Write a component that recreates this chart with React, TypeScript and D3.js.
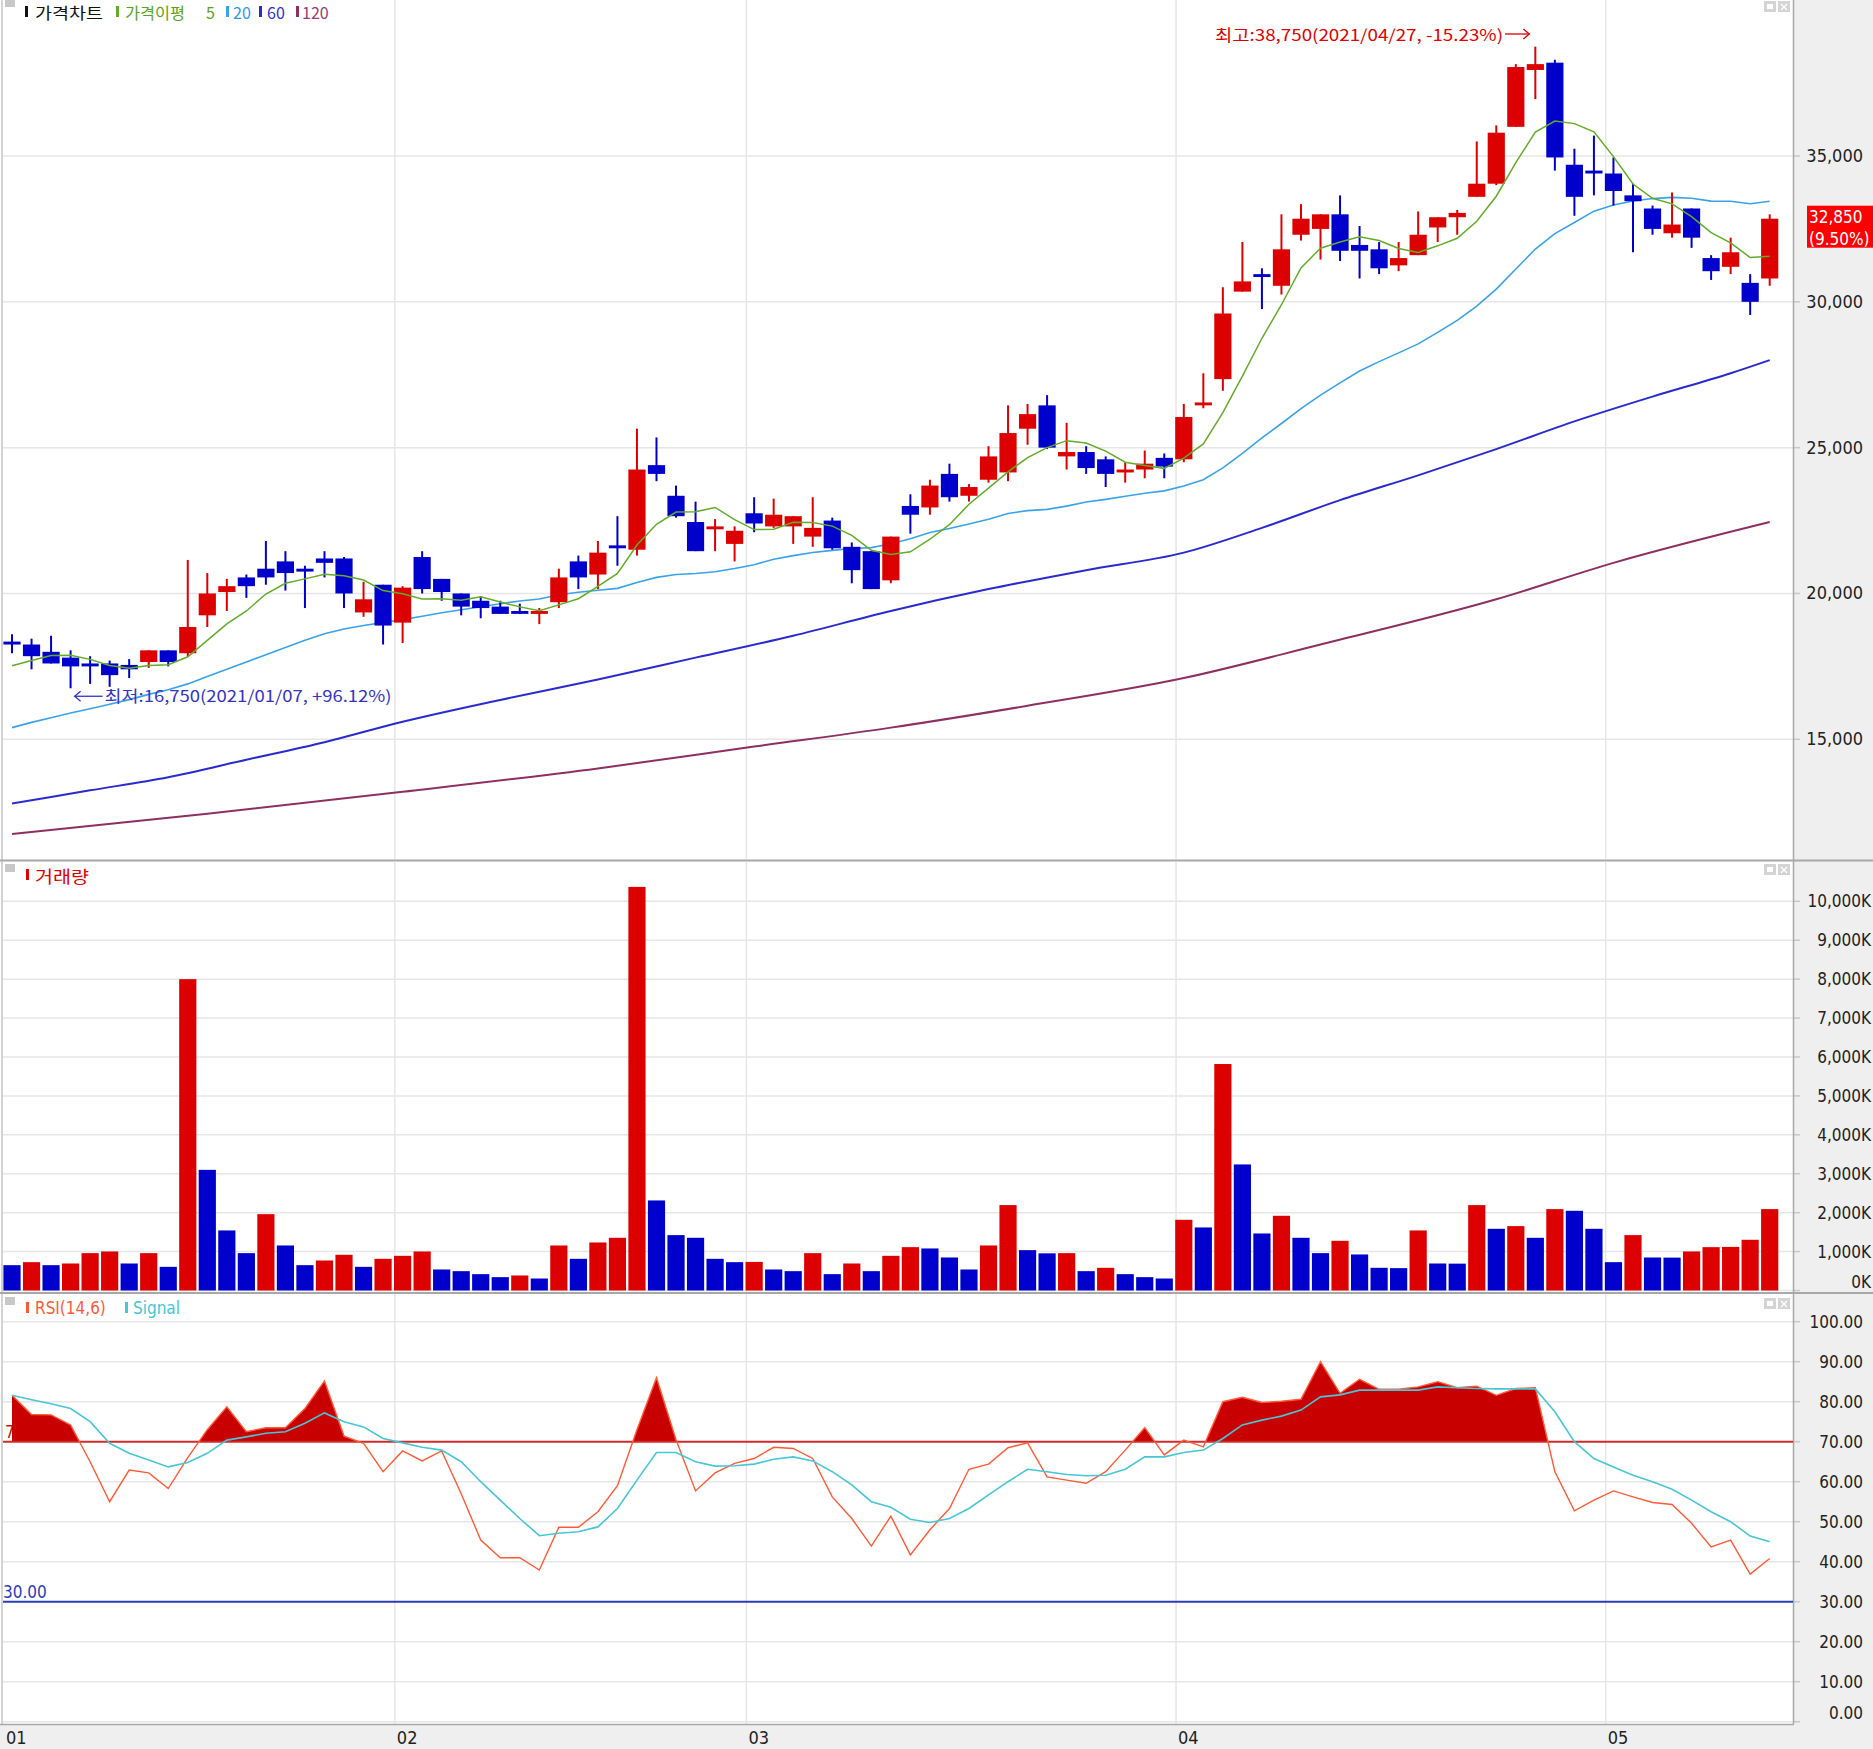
import React, { useEffect } from "react";
import * as d3 from "d3";

// ---------------- DATA ----------------
const opens = [18350,18250,18000,17800,17600,17600,17550,17650,18050,17950,19250,20050,20550,20850,21100,20850,21200,21200,19350,20300,19000,21250,20500,20000,19750,19550,19400,19300,19700,21100,20650,21650,21500,24400,23350,22450,22200,21700,22750,22300,22300,21950,22500,21600,21450,20450,23000,22950,24100,23350,23900,24150,25650,26450,24700,24850,24600,24150,24250,24650,24600,26450,27350,30350,30950,30550,32300,32500,33000,31950,31800,31250,31600,32550,32900,33600,34050,36000,37950,38200,34700,34500,34400,33650,33200,32350,33200,31500,31200,30650,30800];
const highs = [18600,18450,18550,18050,17850,17700,17750,18050,18050,21150,20700,20500,20650,21800,21450,20950,21450,21250,20400,20300,20250,21450,20500,20000,19900,19750,19650,19500,20850,21300,21800,22650,25650,25350,23700,23150,22550,22300,23300,23250,22650,23300,22600,21750,21450,21950,23400,23900,24450,23750,25050,26450,26500,26800,25850,25050,24700,24500,24900,24800,26500,27550,30500,32050,31150,33000,33350,33000,33650,32600,32050,32050,33100,32900,33150,35500,36050,38150,38750,38300,35250,35700,34950,34050,33300,33750,33200,31600,32200,30950,33000];
const lows = [17950,17400,17600,16750,16900,16800,17100,17450,17500,17850,18850,19400,19850,20300,20100,19500,20550,19500,19200,18250,18300,20000,19750,19250,19150,19300,19300,18950,19500,20150,20150,20950,21300,23850,22600,21450,21450,21100,22100,22250,21700,21600,21500,20350,20150,20350,22050,22700,23150,23150,23800,23850,25100,24950,24250,24100,23650,23800,23950,23950,24500,26350,26950,30350,29750,30250,32100,31450,31400,30800,30950,31050,31600,32050,32300,33600,34000,36000,36950,34500,32950,33650,33300,31700,32300,32200,31850,30750,30950,29550,30550];
const closes = [18250,17850,17600,17500,17500,17200,17400,18050,17650,18850,20000,20250,20250,20550,20700,20750,21050,20000,19800,18900,20200,20150,20050,19550,19500,19300,19300,19400,20550,20550,21400,21550,24250,24100,22650,21450,22300,22150,22400,22700,22650,22250,21550,20800,20150,21950,22700,23700,23300,23650,24700,25500,26150,25000,24850,24300,24100,24250,24450,24350,26050,26550,29600,30700,30850,31800,32850,33000,31750,31750,31150,31500,32300,32900,33050,34050,35800,38050,38150,34950,33600,34400,33800,33450,32500,32650,32200,31050,31700,30000,32850];

// volume, thousands of shares
const volumes = [651,728,651,694,960,1003,694,960,608,8000,3100,1543,960,1962,1157,651,771,917,608,814,891,1003,540,497,420,343,386,308,1157,814,1234,1354,10370,2314,1423,1354,814,728,735,540,497,960,420,694,497,891,1114,1080,848,540,1157,2194,1037,955,960,497,583,420,343,308,1817,1620,5819,3239,1465,1920,1354,960,1277,926,583,575,1543,694,690,2194,1585,1654,1354,2091,2048,1585,728,1423,848,845,1003,1114,1120,1303,2091];

const rsiValues = [81.6,76.8,76.7,74.2,65,55,62.9,62.2,58.3,66,73,78.7,72.5,73.5,73.5,78.3,85.2,71.4,69.6,62.5,67.7,65.2,67.7,57,45.4,41,41,37.9,48.6,48.6,52.5,59,73,86,70.5,57.7,62.2,64.6,65.8,68.6,68.3,65.8,56.2,50.8,43.9,51.4,41.7,48,53.3,63.1,64.4,68.5,69.7,61.2,60.4,59.6,62.5,67.9,73.5,66.7,70.4,68.7,80,81.1,79.8,80.1,80.6,90,82.1,85.6,83.1,83.1,83.7,85,83.5,83.9,81.6,83.3,83.5,62.5,52.7,55.4,57.7,56.2,54.8,54.3,49.6,43.7,45.4,36.9,40.8];
const signalValues = [81.6,80.5,79.5,78.3,75,69.6,67.1,65.4,63.7,64.8,67.1,70.4,71.2,72.1,72.5,74.6,77.2,75,73.7,70.8,69.7,68.6,67.9,65,60,55.4,50.8,46.5,47.1,47.5,48.7,53.3,60.4,67.3,67.3,65,63.9,64,64.4,65.6,66.2,65.2,62.5,59.2,55,53.6,50.6,49.8,50.8,53.3,56.7,60,63.1,62.5,61.8,61.5,61.6,63.1,66.2,66.2,67.3,67.9,70.8,74.2,75.4,76.4,77.9,81.2,81.7,82.9,82.9,82.9,82.9,83.7,83.5,83.3,83.2,83.2,83.2,77.5,70,65.8,63.7,61.6,60,58.1,55.4,52.5,50,46.4,45];

const ma5Lead = [17520,17700,17870,17880];
const ma20Lead = [15400,15580,15740,15900,16050,16200,16360,16540,16700,16900,17150,17400,17650,17900,18150,18400,18620,18780,18900];
const ma60Idx = [0,4,8,12,16,20,25,30,35,40,45,50,55,60,64,68,72,76,80,84,88,90];
const ma60Val = [12800,13250,13700,14300,14900,15600,16350,17050,17800,18550,19400,20150,20800,21400,22250,23200,24050,24950,25900,26750,27550,28000];
const ma120Idx = [0,10,20,30,38,45,52,60,67,76,82,90];
const ma120Val = [11750,12450,13200,14000,14750,15400,16150,17100,18250,19800,21050,22450];

const monthStartIdx = [0,20,38,60,82];
const monthLabels = ["01","02","03","04","05"];
const priceTicks = [15000,20000,25000,30000,35000];
const volumeTicks = [0,1000,2000,3000,4000,5000,6000,7000,8000,9000,10000];
const rsiTicks = [0,10,20,30,40,50,60,70,80,90,100];

const lastClose = 32850;
const lastChangeText = "(9.50%)";
const highNote = "최고:38,750(2021/04/27, -15.23%)";
const lowNote = "최저:16,750(2021/01/07, +96.12%)";
const highIdx = 78;
const lowIdx = 3;

// ---------------- STYLE ----------------
const W = 1873, H = 1749;
const RED = "#dd0000", BLUE = "#0000cc";
const C_MA5 = "#62ac28", C_MA20 = "#3aa2ea", C_MA60 = "#2a2ad0", C_MA120 = "#8e2f62";
const C_RSI = "#ff5a36", C_SIG = "#46c6d6";
const GRID = "#e6e6e6";
const AXF = "'Liberation Sans Narrow','DejaVu Sans Condensed','Liberation Sans',sans-serif";
const KRF = "'Noto Sans CJK KR','Noto Sans',sans-serif";
const PL = 3, PR = 1793;
const P_TOP = 0, P_BOT = 859, V_TOP = 862, V_BOT = 1292, R_TOP = 1294, R_BOT = 1724;

function fmt(v: number) { return d3.format(",")(v); }

export default function App() {
  useEffect(() => { document.body.style.margin = "0"; document.body.style.overflow = "hidden"; }, []);
  const n = closes.length;
  const idx = d3.range(n);
  const x = d3.scaleBand<number>().domain(idx).range([2.235, 2.235 + n * 19.53]).paddingInner(0.12).paddingOuter(0.06);
  const bw = x.bandwidth();
  const step = x.step();
  const xc = (i: number) => (x(i) as number) + bw / 2;
  const yP = d3.scaleLinear().domain([15000, 35000]).range([739.3, 156]);
  const yV = d3.scaleLinear().domain([0, 10000]).range([1290.5, 901.3]);
  const yR = d3.scaleLinear().domain([0, 100]).range([1721.7, 1321.7]);

  const ma5 = idx.map(i => i >= 4 ? (d3.mean(closes.slice(i - 4, i + 1)) as number) : ma5Lead[i]);
  const ma20 = idx.map(i => i >= 19 ? (d3.mean(closes.slice(i - 19, i + 1)) as number) : ma20Lead[i]);
  const lineP = d3.line<number>().x((_, i) => xc(i)).y(v => yP(v));
  const lineSparse = d3.line<[number, number]>().x(d => xc(d[0])).y(d => yP(d[1])).curve(d3.curveMonotoneX);
  const lineR = d3.line<number>().x((_, i) => xc(i)).y(v => yR(v));
  const areaR = d3.area<number>().x((_, i) => xc(i)).y0(yR(70)).y1(v => yR(v));

  const monthX = (k: number) => k === 0 ? PL : xc(monthStartIdx[k]) - step / 2 + 2;

  const panels: [number, number][] = [[P_TOP, P_BOT], [V_TOP, V_BOT], [R_TOP, R_BOT]];

  const marker = (xx: number, yy: number, c: string) => <rect x={xx} y={yy} width={3} height={11} fill={c} />;

  const icons = (top: number) => (
    <g>
      <rect x={1764} y={top + 1} width={12} height={11} fill="#d4d4d4" />
      <rect x={1767} y={top + 4} width={6} height={5} fill="#ffffff" />
      <rect x={1778} y={top + 1} width={12} height={11} fill="#d4d4d4" />
      <path d={`M1781,${top + 4}L1787,${top + 10}M1787,${top + 4}L1781,${top + 10}`} stroke="#fff" strokeWidth={1.3} />
    </g>
  );

  return (
    <svg width={W} height={H} style={{ position: "absolute", left: 0, top: 0, display: "block", background: "#fff" }}>
      <defs>
        <clipPath id="above70"><rect x={0} y={R_TOP} width={PR} height={yR(70) - R_TOP} /></clipPath>
        <clipPath id="plotP"><rect x={PL} y={P_TOP} width={PR - PL} height={P_BOT - P_TOP} /></clipPath>
      </defs>
      <rect x={0} y={0} width={W} height={H} fill="#fff" />
      {/* axis backgrounds */}
      <rect x={PR + 1} y={0} width={W - PR - 1} height={H} fill="#efefef" />
      <rect x={0} y={R_BOT} width={W} height={H - R_BOT} fill="#efefef" />

      {/* horizontal grid */}
      {priceTicks.map(t => (
        <g key={"pg" + t}>
          <line x1={PL} x2={PR} y1={yP(t)} y2={yP(t)} stroke={GRID} strokeWidth={1.5} />
          <line x1={PR} x2={PR + 7} y1={yP(t)} y2={yP(t)} stroke="#c8c8c8" strokeWidth={1.5} />
        </g>
      ))}
      {volumeTicks.map(t => (
        <g key={"vg" + t}>
          <line x1={PL} x2={PR} y1={yV(t)} y2={yV(t)} stroke={GRID} strokeWidth={1.5} />
          <line x1={PR} x2={PR + 7} y1={yV(t)} y2={yV(t)} stroke="#c8c8c8" strokeWidth={1.5} />
        </g>
      ))}
      {rsiTicks.map(t => (
        <g key={"rg" + t}>
          {t !== 30 && t !== 70 && <line x1={PL} x2={PR} y1={yR(t)} y2={yR(t)} stroke={GRID} strokeWidth={1.5} />}
          <line x1={PR} x2={PR + 7} y1={yR(t)} y2={yR(t)} stroke="#c8c8c8" strokeWidth={1.5} />
        </g>
      ))}
      {/* month grid */}
      {monthStartIdx.slice(1).map((m, k) => panels.map(([a, b], j) => (
        <line key={"mg" + m + "-" + j} x1={monthX(k + 1)} x2={monthX(k + 1)} y1={a} y2={b} stroke={GRID} strokeWidth={1.5} />
      )))}

      {/* panel borders */}
      <line x1={2} x2={2} y1={0} y2={R_BOT} stroke="#c4c4c4" strokeWidth={1.5} />
      <line x1={PR + 0.5} x2={PR + 0.5} y1={0} y2={R_BOT} stroke="#a8a8a8" strokeWidth={1.5} />
      <line x1={0} x2={W} y1={860.5} y2={860.5} stroke="#a8a8a8" strokeWidth={2} />
      <line x1={0} x2={W} y1={1293} y2={1293} stroke="#a8a8a8" strokeWidth={2} />
      <line x1={0} x2={PR + 1} y1={R_BOT + 0.5} y2={R_BOT + 0.5} stroke="#a8a8a8" strokeWidth={1.5} />

      {/* ---------- PRICE PANEL ---------- */}
      <g clipPath="url(#plotP)">
        <path d={lineSparse(ma120Idx.map((k, j) => [k, ma120Val[j]] as [number, number])) || ""} fill="none" stroke={C_MA120} strokeWidth={2} />
        <path d={lineSparse(ma60Idx.map((k, j) => [k, ma60Val[j]] as [number, number])) || ""} fill="none" stroke={C_MA60} strokeWidth={2} />
        <path d={lineP(ma20) || ""} fill="none" stroke={C_MA20} strokeWidth={1.6} />
        {idx.map(i => {
          const up = closes[i] >= opens[i];
          const c = up ? RED : BLUE;
          const top = yP(Math.max(opens[i], closes[i]));
          const h = Math.max(2, Math.abs(yP(opens[i]) - yP(closes[i])));
          return (
            <g key={"c" + i}>
              <line x1={xc(i)} x2={xc(i)} y1={yP(highs[i])} y2={yP(lows[i])} stroke={c} strokeWidth={2} />
              <rect x={x(i) as number} y={top} width={bw} height={h} fill={c} />
            </g>
          );
        })}
        <path d={lineP(ma5) || ""} fill="none" stroke={C_MA5} strokeWidth={1.5} />
      </g>

      {/* legend */}
      <rect x={5} y={0} width={10} height={7} fill="#c8c8c8" />
      {marker(25, 6, "#111")}
      <text x={35} y={19} fontFamily={KRF} fontSize={16} fill="#111" textLength={68} lengthAdjust="spacingAndGlyphs">가격차트</text>
      {marker(116, 6, C_MA5)}
      <text x={125} y={19} fontFamily={KRF} fontSize={16} fill="#58a51c" textLength={60} lengthAdjust="spacingAndGlyphs">가격이평</text>
      <text x={206} y={19} fontFamily={KRF} fontSize={16} fill="#58a51c">5</text>
      {marker(226, 6, C_MA20)}
      <text x={233} y={19} fontFamily={KRF} fontSize={16} fill="#2f98ea">20</text>
      {marker(259, 6, C_MA60)}
      <text x={267} y={19} fontFamily={KRF} fontSize={16} fill="#3030d0">60</text>
      {marker(296, 6, C_MA120)}
      <text x={302} y={19} fontFamily={KRF} fontSize={16} fill="#9a3a6c">120</text>
      {icons(0)}

      {/* high / low notes */}
      <text x={1215} y={41} fontFamily={KRF} fontSize={16} fill="#e00000" textLength={288} lengthAdjust="spacingAndGlyphs">{highNote}</text>
      <line x1={1505} x2={xc(highIdx) - 6} y1={34} y2={34} stroke="#e00000" strokeWidth={1.3} />
      <path d={`M${xc(highIdx) - 12},29L${xc(highIdx) - 6},34L${xc(highIdx) - 12},39`} fill="none" stroke="#e00000" strokeWidth={1.3} />
      <line x1={xc(lowIdx) + 4} x2={xc(lowIdx) + 32} y1={yP(16750) + 8} y2={yP(16750) + 8} stroke="#3434c4" strokeWidth={1.3} />
      <path d={`M${xc(lowIdx) + 10},${yP(16750) + 3}L${xc(lowIdx) + 4},${yP(16750) + 8}L${xc(lowIdx) + 10},${yP(16750) + 13}`} fill="none" stroke="#3434c4" strokeWidth={1.3} />
      <text x={xc(lowIdx) + 34} y={yP(16750) + 14} fontFamily={KRF} fontSize={16} fill="#3434c4" textLength={287} lengthAdjust="spacingAndGlyphs">{lowNote}</text>

      {/* price axis labels */}
      {priceTicks.map(t => (
        <text key={"pl" + t} x={1863} y={yP(t) + 6} textAnchor="end" fontFamily={AXF} fontSize={18} fill="#222">{fmt(t)}</text>
      ))}
      <rect x={1807} y={yP(lastClose) - 13} width={66} height={42} fill="#ff0000" />
      <text x={1809} y={yP(lastClose) + 4} fontFamily={AXF} fontSize={17} fill="#fff">{fmt(lastClose)}</text>
      <text x={1809} y={yP(lastClose) + 26} fontFamily={AXF} fontSize={17} fill="#fff">{lastChangeText}</text>

      {/* ---------- VOLUME PANEL ---------- */}
      {idx.map(i => {
        const up = i > 0 && volumes[i] > volumes[i - 1];
        return <rect key={"v" + i} x={x(i) as number} y={yV(volumes[i])} width={bw} height={yV(0) - yV(volumes[i])} fill={up ? RED : BLUE} />;
      })}
      <rect x={5} y={864} width={10} height={8} fill="#c8c8c8" />
      {marker(26, 869, RED)}
      <text x={35} y={883} fontFamily={KRF} fontSize={17} fill="#e00000" textLength={54} lengthAdjust="spacingAndGlyphs">거래량</text>
      {icons(863)}
      {volumeTicks.map(t => (
        <text key={"vl" + t} x={1871} y={t === 0 ? yV(t) - 3 : yV(t) + 6} textAnchor="end" fontFamily={AXF} fontSize={17} fill="#222">{fmt(t) + "K"}</text>
      ))}

      {/* ---------- RSI PANEL ---------- */}
      <text x={5} y={1438} fontFamily={AXF} fontSize={17} fill="#cc1010">70.00</text>
      <path d={areaR(rsiValues) || ""} fill="#c80000" clipPath="url(#above70)" />
      <line x1={PL} x2={PR} y1={yR(70)} y2={yR(70)} stroke="#d02a2a" strokeWidth={2} />
      <line x1={PL} x2={PR} y1={yR(30)} y2={yR(30)} stroke="#2a3cb4" strokeWidth={2} />
      <text x={3} y={1598} fontFamily={AXF} fontSize={17} fill="#2a3cb4">30.00</text>
      <path d={lineR(rsiValues) || ""} fill="none" stroke={C_RSI} strokeWidth={1.4} />
      <path d={lineR(signalValues) || ""} fill="none" stroke={C_SIG} strokeWidth={1.6} />
      <rect x={5} y={1297} width={10} height={8} fill="#c8c8c8" />
      {marker(26, 1302, C_RSI)}
      <text x={35} y={1314} fontFamily={AXF} fontSize={17} fill={C_RSI}>RSI(14,6)</text>
      {marker(125, 1302, C_SIG)}
      <text x={133} y={1314} fontFamily={AXF} fontSize={17} fill={C_SIG}>Signal</text>
      {icons(1297)}
      {rsiTicks.map(t => (
        <text key={"rl" + t} x={1863} y={t === 0 ? yR(t) - 3 : yR(t) + 6} textAnchor="end" fontFamily={AXF} fontSize={17} fill="#222">{d3.format(".2f")(t)}</text>
      ))}

      {/* ---------- X AXIS ---------- */}
      {monthLabels.map((lab, k) => (
        <text key={"ml" + k} x={k === 0 ? 6 : monthX(k) + 2} y={1744} fontFamily={AXF} fontSize={18} fill="#222">{lab}</text>
      ))}
    </svg>
  );
}
